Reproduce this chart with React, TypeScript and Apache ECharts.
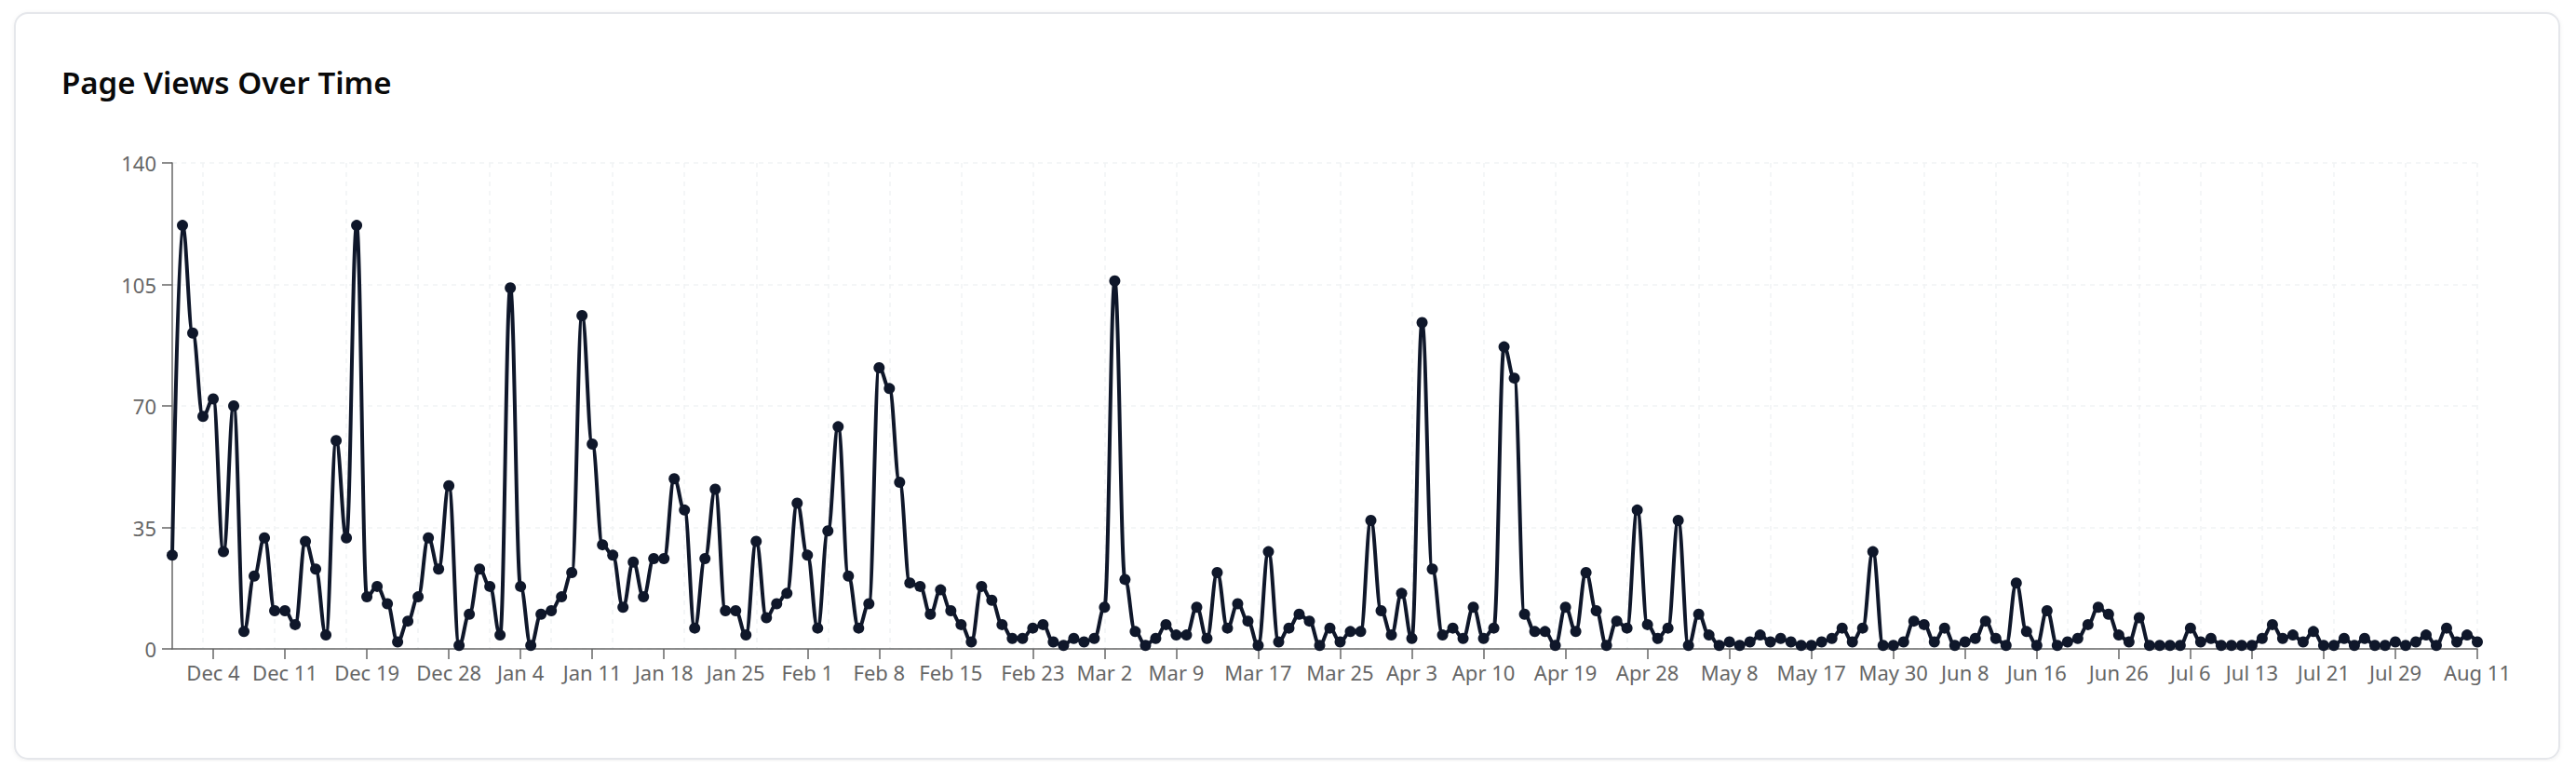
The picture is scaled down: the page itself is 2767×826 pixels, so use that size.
import React, { useEffect, useRef } from "react";
import * as echarts from "echarts";

const dates: string[] = [
  "Nov 30", "Dec 1", "Dec 2", "Dec 3", "Dec 4",
  "Dec 5", "Dec 6", "Dec 7", "Dec 8", "Dec 9", "Dec 10", "Dec 11",
  "Dec 12", "Dec 13", "Dec 14", "Dec 15", "Dec 16", "Dec 17", "Dec 18", "Dec 19",
  "Dec 20", "Dec 21", "Dec 22", "Dec 23", "Dec 24", "Dec 26", "Dec 27", "Dec 28",
  "Dec 29", "Dec 30", "Dec 31", "Jan 1", "Jan 2", "Jan 3", "Jan 4",
  "Jan 5", "Jan 6", "Jan 7", "Jan 8", "Jan 9", "Jan 10", "Jan 11",
  "Jan 12", "Jan 13", "Jan 14", "Jan 15", "Jan 16", "Jan 17", "Jan 18",
  "Jan 19", "Jan 20", "Jan 21", "Jan 22", "Jan 23", "Jan 24", "Jan 25",
  "Jan 26", "Jan 27", "Jan 28", "Jan 29", "Jan 30", "Jan 31", "Feb 1",
  "Feb 2", "Feb 3", "Feb 4", "Feb 5", "Feb 6", "Feb 7", "Feb 8",
  "Feb 9", "Feb 10", "Feb 11", "Feb 12", "Feb 13", "Feb 14", "Feb 15",
  "Feb 16", "Feb 17", "Feb 18", "Feb 19", "Feb 20", "Feb 21", "Feb 22", "Feb 23",
  "Feb 24", "Feb 25", "Feb 26", "Feb 27", "Feb 28", "Mar 1", "Mar 2",
  "Mar 3", "Mar 4", "Mar 5", "Mar 6", "Mar 7", "Mar 8", "Mar 9",
  "Mar 10", "Mar 11", "Mar 12", "Mar 13", "Mar 14", "Mar 15", "Mar 16", "Mar 17",
  "Mar 18", "Mar 19", "Mar 20", "Mar 21", "Mar 22", "Mar 23", "Mar 24", "Mar 25",
  "Mar 26", "Mar 27", "Mar 28", "Mar 29", "Mar 31", "Apr 2", "Apr 3",
  "Apr 4", "Apr 5", "Apr 6", "Apr 7", "Apr 8", "Apr 9", "Apr 10",
  "Apr 11", "Apr 12", "Apr 13", "Apr 14", "Apr 16", "Apr 17", "Apr 18", "Apr 19",
  "Apr 20", "Apr 21", "Apr 22", "Apr 23", "Apr 25", "Apr 26", "Apr 27", "Apr 28",
  "Apr 29", "Apr 30", "May 2", "May 3", "May 4", "May 6", "May 7", "May 8",
  "May 9", "May 10", "May 11", "May 12", "May 14", "May 15", "May 16", "May 17",
  "May 18", "May 19", "May 21", "May 22", "May 24", "May 26", "May 28", "May 30",
  "May 31", "Jun 1", "Jun 3", "Jun 4", "Jun 5", "Jun 7", "Jun 8",
  "Jun 9", "Jun 10", "Jun 11", "Jun 12", "Jun 14", "Jun 15", "Jun 16",
  "Jun 17", "Jun 18", "Jun 19", "Jun 21", "Jun 22", "Jun 23", "Jun 25", "Jun 26",
  "Jun 27", "Jun 28", "Jun 30", "Jul 1", "Jul 3", "Jul 5", "Jul 6",
  "Jul 7", "Jul 8", "Jul 9", "Jul 11", "Jul 12", "Jul 13",
  "Jul 14", "Jul 15", "Jul 16", "Jul 17", "Jul 19", "Jul 20", "Jul 21",
  "Jul 22", "Jul 23", "Jul 24", "Jul 26", "Jul 27", "Jul 28", "Jul 29",
  "Jul 30", "Aug 1", "Aug 2", "Aug 4", "Aug 6", "Aug 8", "Aug 10", "Aug 11",
];

const pageViews: number[] = [
  27, 122, 91, 67, 72, 28, 70, 5, 21, 32, 11, 11, 7, 31, 23, 4, 60, 32, 122, 15,
  18, 13, 2, 8, 15, 32, 23, 47, 1, 10, 23, 18, 4, 104, 18, 1, 10, 11, 15, 22,
  96, 59, 30, 27, 12, 25, 15, 26, 26, 49, 40, 6, 26, 46, 11, 11,
  4, 31, 9, 13, 16, 42, 27, 6, 34, 64, 21, 6, 13, 81, 75, 48, 19, 18, 10, 17,
  11, 7, 2, 18, 14, 7, 3, 3, 6, 7, 2, 1, 3, 2, 3, 12,
  106, 20, 5, 1, 3, 7, 4, 4, 12, 3, 22, 6, 13, 8, 1, 28, 2, 6, 10, 8,
  1, 6, 2, 5, 5, 37, 11, 4, 16, 3, 94, 23, 4,
  6, 3, 12, 3, 6, 87, 78, 10, 5, 5, 1, 12, 5, 22, 11, 1, 8, 6, 40, 7,
  3, 6, 37, 1, 10, 4, 1, 2, 1, 2, 4, 2, 3,
  2, 1, 1, 2, 3, 6, 2, 6, 28, 1, 1, 2, 8, 7, 2, 6, 1, 2, 3, 8,
  3, 1, 19, 5, 1, 11, 1, 2, 3, 7, 12, 10, 4,
  2, 9, 1, 1, 1, 1, 6, 2, 3, 1, 1, 1, 1, 3, 7, 3, 4, 2, 5, 1,
  1, 3, 1, 3, 1, 1, 2, 1, 2, 4, 1, 6, 2, 4, 2,
];

// indices of the categories whose labels are shown on the x axis
const labelIndices: number[] = [
  4, 11, 19, 27, 34, 41, 48, 55, 62, 69, 76, 84, 91, 98, 106, 114, 121, 128,
  136, 144, 152, 160, 168, 175, 182, 190, 197, 203, 210, 217, 225,
];

// indices of the vertical dashed grid lines
const gridIndices: number[] = [
  3, 10, 17, 24, 31, 37, 43, 50, 57, 64, 70, 77, 84, 91, 98, 106, 114, 121,
  128, 135, 142, 149, 156, 164, 171, 178, 185, 192, 198, 204, 211, 218, 225,
];

const yTicks: number[] = [0, 35, 70, 105, 140];

const TITLE = "Page Views Over Time";

export default function App() {
  const ref = useRef<HTMLDivElement>(null);

  useEffect(() => {
    if (!ref.current) return;
    const chart = echarts.init(ref.current, null, { renderer: "svg" });
    const labelSet = new Set(labelIndices);
    const gridSet = new Set(gridIndices);
    const lineColor = "#0f172a";
    const axisColor = "#666666";
    const gridColor = "#f1f3f5";

    chart.setOption({
      animation: false,
      backgroundColor: "#ffffff",
      textStyle: { fontFamily: "'Noto Sans', sans-serif" },
      graphic: [
        {
          type: "rect",
          z: -10,
          silent: true,
          shape: { x: 8, y: 6, width: 2733, height: 801, r: 14 },
          style: {
            fill: "#ffffff",
            stroke: "#e5e7eb",
            lineWidth: 2,
            shadowBlur: 4,
            shadowColor: "rgba(0,0,0,0.06)",
            shadowOffsetY: 1,
          },
        },
      ],
      title: {
        text: TITLE,
        left: 58,
        top: 64,
        padding: 0,
        textStyle: {
          fontFamily: "'Noto Sans', sans-serif",
          fontSize: 33,
          fontWeight: 600,
          color: "#0a0a0a",
        },
      },
      grid: { left: 177, right: 98, top: 167, bottom: 121, containLabel: false },
      xAxis: {
        type: "category",
        data: dates,
        boundaryGap: false,
        axisLine: { show: true, lineStyle: { color: axisColor, width: 1.5 } },
        axisTick: {
          show: true,
          length: 11,
          interval: (i: number) => labelSet.has(i),
          lineStyle: { color: axisColor, width: 1.5 },
        },
        axisLabel: {
          show: true,
          interval: (i: number) => labelSet.has(i),
          color: axisColor,
          fontSize: 22,
          margin: 14,
          hideOverlap: false,
        },
        splitLine: {
          show: true,
          interval: (i: number) => gridSet.has(i),
          lineStyle: { color: gridColor, type: [5, 5], width: 1.5 },
        },
      },
      yAxis: {
        type: "value",
        min: yTicks[0],
        max: yTicks[yTicks.length - 1],
        interval: yTicks[1] - yTicks[0],
        axisLine: { show: true, lineStyle: { color: axisColor, width: 1.5 } },
        axisTick: { show: true, length: 11, lineStyle: { color: axisColor, width: 1.5 } },
        axisLabel: { color: axisColor, fontSize: 22, margin: 17 },
        splitLine: {
          show: true,
          lineStyle: { color: gridColor, type: [5, 5], width: 1.5 },
        },
      },
      series: [
        {
          type: "line",
          name: "Page Views",
          data: pageViews,
          smooth: 0.4,
          smoothMonotone: "x",
          symbol: "circle",
          symbolSize: 12,
          showAllSymbol: true,
          itemStyle: { color: lineColor },
          lineStyle: { color: lineColor, width: 4 },
        },
      ],
    });

    return () => chart.dispose();
  }, []);

  return <div ref={ref} style={{ width: 2751, height: 810 }} />;
}
